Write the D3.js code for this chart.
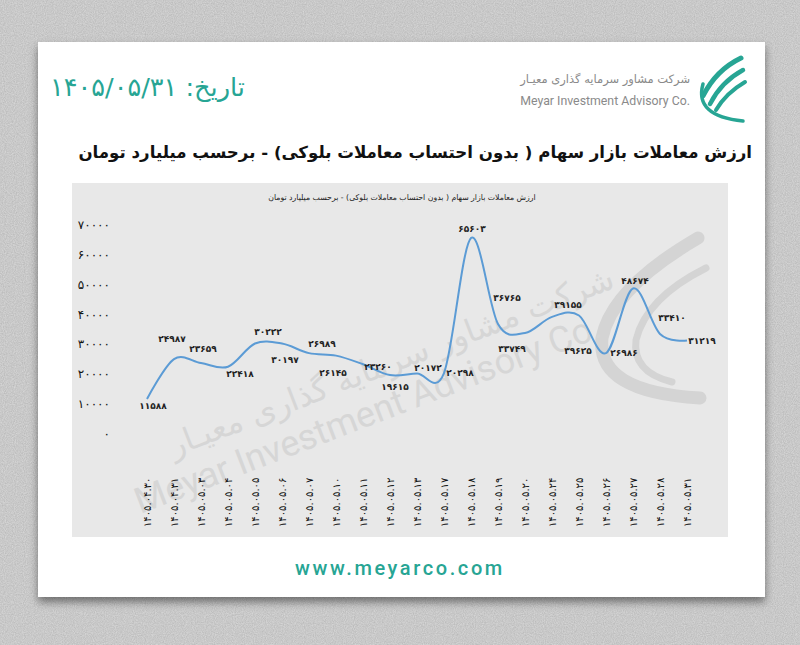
<!DOCTYPE html>
<html><head><meta charset="utf-8">
<script src="https://cdn.jsdelivr.net/npm/d3@7"></script>
<style>body{margin:0;background:#d8d8d8}svg{display:block}</style>
</head><body><svg id="c" width="800" height="645"></svg>
<script>
// ---- data ----
const dates = ["۱۴۰۵.۰۴.۳۰","۱۴۰۵.۰۴.۳۱","۱۴۰۵.۰۵.۰۳","۱۴۰۵.۰۵.۰۴","۱۴۰۵.۰۵.۰۵","۱۴۰۵.۰۵.۰۶","۱۴۰۵.۰۵.۰۷","۱۴۰۵.۰۵.۱۰","۱۴۰۵.۰۵.۱۱","۱۴۰۵.۰۵.۱۲","۱۴۰۵.۰۵.۱۳","۱۴۰۵.۰۵.۱۷","۱۴۰۵.۰۵.۱۸","۱۴۰۵.۰۵.۱۹","۱۴۰۵.۰۵.۲۰","۱۴۰۵.۰۵.۲۴","۱۴۰۵.۰۵.۲۵","۱۴۰۵.۰۵.۲۶","۱۴۰۵.۰۵.۲۷","۱۴۰۵.۰۵.۲۸","۱۴۰۵.۰۵.۳۱"];
const values = [11588,24987,23659,22418,30222,30197,26989,26145,23260,19615,20172,20298,65603,36765,33749,39155,39625,26986,48674,33410,31219];
const yTicks = [0,10000,20000,30000,40000,50000,60000,70000];
const title = "ارزش معاملات بازار سهام ( بدون احتساب معاملات بلوکی) - برحسب میلیارد تومان";
const dateText = "تاریخ: ۱۴۰۵/۰۵/۳۱";
const companyFa = "شرکت مشاور سرمایه گذاری معیـار";
const companyEn = "Meyar Investment Advisory Co.";
const website = "www.meyarco.com";
// label offsets (layout only)
const labelDx = [6,-2,2,12,13,3,13,-3,15,5,11,16,1,9,-13,16,-1,18,2,12,15];
const labelDy = [7,-20,-14,7,-12,16,-9,17,3,12,-6,0,-9,-26,16,-12,35,0,-8,-16,0];

const pd = s => String(s).replace(/\d/g, d => "۰۱۲۳۴۵۶۷۸۹"[d]);
const FA = "'DejaVu Sans', sans-serif";
const TEAL = "#27a594";

const svg = d3.select("#c");
const defs = svg.append("defs");
const f = defs.append("filter").attr("id","noise").attr("x",0).attr("y",0).attr("width","100%").attr("height","100%");
f.append("feTurbulence").attr("type","fractalNoise").attr("baseFrequency",0.9).attr("numOctaves",2).attr("result","t");
f.append("feColorMatrix").attr("type","matrix").attr("values","0 0 0 0 0  0 0 0 0 0  0 0 0 0 0  0 0 0 0.35 0");
const sh = defs.append("filter").attr("id","shadow").attr("x","-5%").attr("y","-5%").attr("width","110%").attr("height","115%");
sh.append("feDropShadow").attr("dx",0).attr("dy",5).attr("stdDeviation",4).attr("flood-color","#000").attr("flood-opacity",0.45);

// background
svg.append("rect").attr("width",800).attr("height",645).attr("fill","#dcdcdc");
svg.append("rect").attr("width",800).attr("height",645).attr("filter","url(#noise)").attr("opacity",0.5);

// card
svg.append("rect").attr("x",38).attr("y",42).attr("width",727).attr("height",555).attr("fill","#fff").attr("filter","url(#shadow)");

function fit(sel, w){ const cw = sel.node().getComputedTextLength(); const fs = parseFloat(sel.attr("font-size")); sel.attr("font-size", fs*w/cw); return sel; }

// header date
fit(svg.append("text").attr("x",245).attr("y",96).attr("direction","rtl").attr("text-anchor","start")
  .attr("font-family",FA).attr("font-size",25).attr("fill",TEAL).text(dateText), 195);

// company text
fit(svg.append("text").attr("x",690).attr("y",83).attr("direction","rtl").attr("text-anchor","start")
  .attr("font-family",FA).attr("font-size",13).attr("fill","#8a8a8a").text(companyFa), 170);
fit(svg.append("text").attr("x",690).attr("y",105).attr("text-anchor","end")
  .attr("font-family","Roboto, sans-serif").attr("font-size",13).attr("fill","#8a8a8a").text(companyEn), 170);

// logo
const lg = svg.append("g").attr("fill","none").attr("stroke",TEAL).attr("stroke-linecap","round");
lg.append("path").attr("d","M741,58 Q716,70 703,96").attr("stroke-width",5);
lg.append("path").attr("d","M743,70 Q721,82 710,104").attr("stroke-width",4.5);
lg.append("path").attr("d","M745,82 Q726,93 716,110").attr("stroke-width",4);
lg.append("path").attr("d","M703,84 Q694,116 743,121").attr("stroke-width",3.5);

// title
fit(svg.append("text").attr("x",752).attr("y",158).attr("direction","rtl").attr("text-anchor","start")
  .attr("font-family",FA).attr("font-weight","bold").attr("font-size",19).attr("fill","#111").text(title), 674);

// chart panel
svg.append("rect").attr("x",72).attr("y",183).attr("width",656).attr("height",354).attr("fill","#e8e8e8");

// watermark
const wm = svg.append("g").attr("fill","none").attr("stroke","#d4d4d4").attr("stroke-linecap","round");
wm.append("path").attr("d","M698,238 Q612,288 602,338 Q596,392 700,398").attr("stroke-width",13);
wm.append("path").attr("d","M706,268 Q646,298 636,340 Q632,372 672,382").attr("stroke-width",7);
svg.append("text").attr("transform","translate(395,372) rotate(-21)").attr("text-anchor","middle")
  .attr("font-family",FA).attr("font-size",32).attr("fill","#d6d6d6").text("شرکت مشاور سرمایه گذاری معیـار");
svg.append("text").attr("transform","translate(372,425) rotate(-21)").attr("text-anchor","middle")
  .attr("font-family","Roboto, sans-serif").attr("font-size",36).attr("fill","#d6d6d6").text("Meyar Investment Advisory Co.");

// inner title
fit(svg.append("text").attr("x",402).attr("y",200).attr("text-anchor","middle").attr("direction","rtl")
  .attr("font-family",FA).attr("font-size",8).attr("fill","#222").text(title), 268);

// scales
const x = d3.scalePoint().domain(dates).range([147,687]);
const y = d3.scaleLinear().domain([0,70000]).range([433.5,225]);

// y axis
const ya = svg.append("g").attr("transform","translate(112,0)")
  .call(d3.axisLeft(y).tickValues(yTicks).tickFormat(d=>pd(d)).tickSize(0).tickPadding(2));
ya.select(".domain").remove();
ya.selectAll("text").attr("font-family",FA).attr("font-size",12).attr("fill","#111").attr("letter-spacing",3);

// x axis
const xa = svg.append("g").attr("transform","translate(0,0)")
  .call(d3.axisBottom(x).tickSize(0));
xa.select(".domain").remove();
xa.selectAll("text").attr("font-family",FA).attr("font-size",10).attr("fill","#111")
  .attr("text-anchor","start").attr("direction","ltr")
  .attr("transform","translate(0,527) rotate(-90)").attr("dy","0.35em").attr("y",0).attr("x",0);

// line
const line = d3.line().x((d,i)=>x(dates[i])).y(d=>y(d)).curve(d3.curveCardinal.tension(0));
svg.append("path").datum(values).attr("d",line).attr("fill","none").attr("stroke","#5b9bd5").attr("stroke-width",2);

// data labels
svg.append("g").selectAll("text").data(values).join("text")
  .attr("x",(d,i)=>x(dates[i])+labelDx[i]).attr("y",(d,i)=>y(d)+labelDy[i])
  .attr("dy","0.35em").attr("text-anchor","middle")
  .attr("font-family",FA).attr("font-weight","bold").attr("font-size",9).attr("fill","#222")
  .text(d=>pd(d));

// footer
svg.append("text").attr("x",400).attr("y",575).attr("text-anchor","middle")
  .attr("font-family","Roboto, sans-serif").attr("font-size",20).attr("font-weight",500).attr("letter-spacing",2.6)
  .attr("fill",TEAL).text(website);
</script></body></html>
